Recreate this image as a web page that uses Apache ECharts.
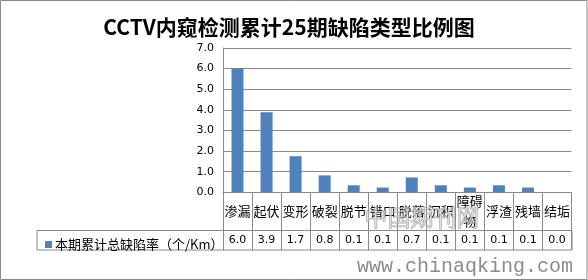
<!DOCTYPE html>
<html>
<head>
<meta charset="utf-8">
<script src="https://cdn.jsdelivr.net/npm/echarts@6/dist/echarts.min.js"></script>
<style>html,body{margin:0;padding:0;background:#fff}#c{width:588px;height:280px}</style>
</head>
<body>
<div id="c"></div>
<script>
var titleText = 'CCTV内窥检测累计25期缺陷类型比例图';
var seriesName = '本期累计总缺陷率（个/Km）';
var categories = ['渗漏', '起伏', '变形', '破裂', '脱节', '错口', '脱落', '沉积', '障碍物', '浮渣', '残墙', '结垢'];
var categoryLabels = ['渗漏', '起伏', '变形', '破裂', '脱节', '错口', '脱落', '沉积', '障碍\n物', '浮渣', '残墙', '结垢'];
var barValues = [6.0, 3.88, 1.75, 0.82, 0.34, 0.23, 0.72, 0.34, 0.23, 0.34, 0.23, 0.0];
var tableValues = ['6.0', '3.9', '1.7', '0.8', '0.1', '0.1', '0.7', '0.1', '0.1', '0.1', '0.1', '0.0'];
var yTicks = [0, 1, 2, 3, 4, 5, 6, 7];

var grey = '#8a8a8a';
var numFont = '"DejaVu Sans", Verdana, sans-serif';
var cjkFont = '"Noto Sans CJK SC", "DejaVu Sans", sans-serif';

var chart = echarts.init(document.getElementById('c'), null, {renderer: 'canvas'});
chart.setOption({
  animation: false,
  backgroundColor: '#fff',
  title: {
    text: titleText,
    left: 284, top: 12, textAlign: 'center',
    textStyle: {fontFamily: cjkFont, fontWeight: 'bold', fontSize: 21, color: '#000'}
  },
  legend: {
    left: 40, top: 233,
    icon: 'rect', itemWidth: 7, itemHeight: 7, itemGap: 0,
    textStyle: {fontFamily: cjkFont, fontSize: 13, color: '#000', padding: [0, 0, 0, -2]},
    data: [seriesName]
  },
  grid: {left: 223, right: 16.5, top: 48, bottom: 87.7, containLabel: false},
  xAxis: [{
    type: 'category',
    data: categories,
    axisLine: {show: true, lineStyle: {color: grey, width: 1}},
    axisTick: {show: true, length: 58, lineStyle: {color: grey}},
    axisLabel: {
      interval: 0, margin: 19, verticalAlign: 'middle',
      fontFamily: cjkFont, fontSize: 13, color: '#000', lineHeight: 20,
      formatter: function (v, i) { return categoryLabels[i]; }
    }
  }, {
    type: 'category',
    data: categories,
    position: 'bottom',
    axisLine: {show: false}, axisTick: {show: false},
    axisLabel: {
      interval: 0, margin: 48, verticalAlign: 'middle',
      fontFamily: numFont, fontSize: 11, color: '#000',
      formatter: function (v, i) { return tableValues[i]; }
    }
  }],
  yAxis: {
    type: 'value', min: yTicks[0], max: yTicks[yTicks.length - 1], interval: 1,
    axisLine: {show: true, lineStyle: {color: grey}},
    axisTick: {show: false},
    splitLine: {lineStyle: {color: grey}},
    axisLabel: {
      margin: 9, fontFamily: numFont, fontSize: 11, color: '#000',
      formatter: function (v) { return v.toFixed(1); }
    }
  },
  series: [{
    name: seriesName, type: 'bar', xAxisIndex: 0,
    data: barValues, barWidth: 12,
    itemStyle: {color: '#4F81BD'}
  }],
  graphic: [
    {type: 'rect', shape: {x: 0.5, y: 0.5, width: 586.5, height: 279}, style: {fill: 'none', stroke: grey, lineWidth: 1}, silent: true},
    {type: 'rect', shape: {x: 37, y: 230.5, width: 535, height: 19.5}, style: {fill: 'none', stroke: grey, lineWidth: 1}, silent: true},
    {type: 'text', left: 364, top: 205, silent: true, z: 100,
      style: {text: '中国期刊网', font: '23px "Noto Serif CJK SC", "Noto Sans CJK SC", serif', fill: 'rgba(255,255,255,0.5)', stroke: 'rgba(140,140,140,0.75)', lineWidth: 1.2}},
    {type: 'text', left: 357, top: 257, silent: true,
      style: {text: 'www.chinaqking.com', font: '20px "Liberation Mono", "DejaVu Sans Mono", monospace', fill: '#8c8c8c'}}
  ]
});
</script>
</body>
</html>
